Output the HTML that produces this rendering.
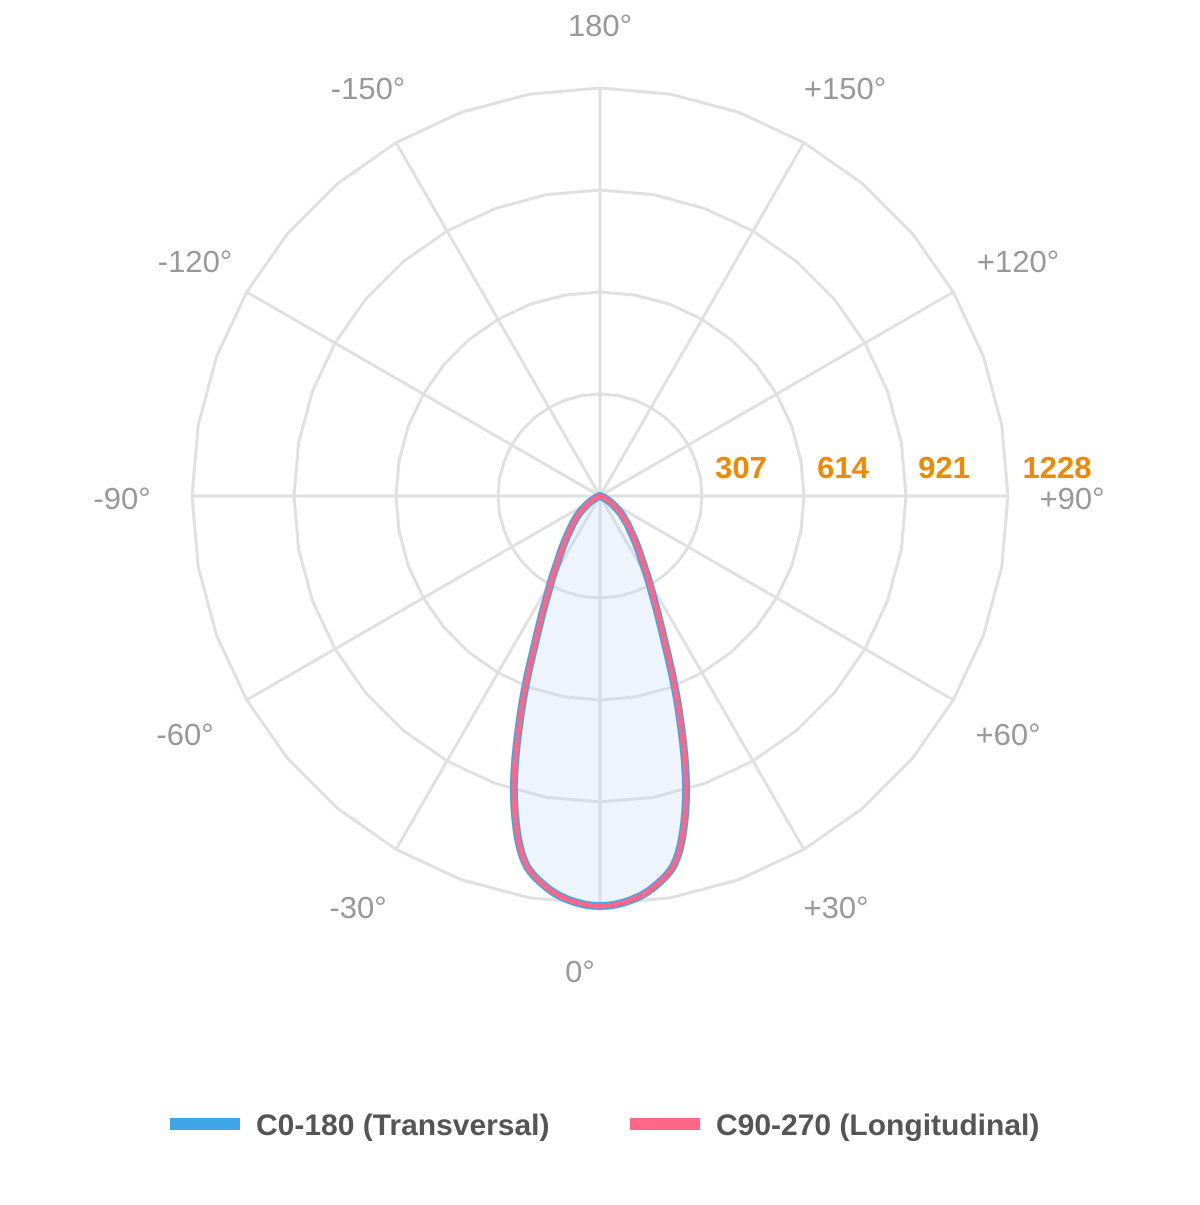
<!DOCTYPE html>
<html><head><meta charset="utf-8"><style>
body{margin:0;background:#fff;width:1200px;height:1200px;overflow:hidden}
svg text{font-family:"Liberation Sans",sans-serif}
</style></head><body>
<svg id="s" width="1200" height="1200" viewBox="0 0 1200 1200"></svg>
<script>
const s=document.getElementById('s');const cx=600,cy=496;
let h='';
function P(r,a){const t=a*Math.PI/180;return [cx+r*Math.sin(t),cy+r*Math.cos(t)];}
for(const R of [102,204,306,408]){let p=[];for(let a=0;a<360;a+=10){p.push(P(R,a).map(v=>v.toFixed(1)).join(','));}
h+=`<polygon points="${p.join(' ')}" fill="none" stroke="#e0e0e0" stroke-width="3"/>`;}
for(let a=0;a<180;a+=30){const [x1,y1]=P(408,a),[x2,y2]=P(408,a+180);h+=`<line x1="${x1}" y1="${y1}" x2="${x2}" y2="${y2}" stroke="#e0e0e0" stroke-width="3"/>`;}
const T=[[-4,406],[0,410],[4,406],[8,394],[12,370],[16,312],[20,232],[24,158],[28,112],[33,77],[40,50],[46,35],[55,18],[65,5],[75,0],[90,0],[180,0],[200,0]];
function r(a){a=Math.abs(a);for(let i=1;i<T.length-2;i++){if(a<=T[i+1][0]){const p0=T[i-1][1],p1=T[i][1],p2=T[i+1][1],p3=T[i+2][1];const t=(a-T[i][0])/(T[i+1][0]-T[i][0]);
const m1=(p2-p0)/2,m2=(p3-p1)/2;const t2=t*t,t3=t2*t;return Math.max(0,(2*t3-3*t2+1)*p1+(t3-2*t2+t)*m1+(-2*t3+3*t2)*p2+(t3-t2)*m2);}}return 0;}
let pts=[];for(let a=-180;a<=180;a+=0.5){pts.push(P(r(a),a).map(v=>v.toFixed(1)).join(','));}
const d='M'+pts.join(' L')+'Z';
h+=`<path d="${d}" fill="rgba(190,215,240,0.28)" stroke="#3ea6e8" stroke-width="8" stroke-linejoin="round"/>`;
h+=`<path d="${d}" fill="none" stroke="#ff6688" stroke-width="5" stroke-linejoin="round"/>`;
const L=[[600,36,'180°'],[368,99,'-150°'],[845,99,'+150°'],[195,272,'-120°'],[1018,272,'+120°'],[122,509,'-90°'],[1072,509,'+90°'],[185,745,'-60°'],[1008,745,'+60°'],[358,918,'-30°'],[836,918,'+30°'],[580,982,'0°']];
for(const [x,y,t] of L)h+=`<text x="${x}" y="${y}" font-size="31" fill="#999" text-anchor="middle">${t}</text>`;
for(const [x,t] of [[741,'307'],[843,'614'],[944,'921'],[1057,'1228']])h+=`<text x="${x}" y="478" font-size="31" font-weight="bold" fill="#ef8a00" text-anchor="middle">${t}</text>`;
h+=`<rect x="170" y="1118" width="70" height="12" fill="#3ea6e8"/><text x="256" y="1135" font-size="30" font-weight="bold" fill="#555">C0-180 (Transversal)</text>`;
h+=`<rect x="630" y="1118" width="70" height="12" fill="#ff6688"/><text x="716" y="1135" font-size="30" font-weight="bold" fill="#555">C90-270 (Longitudinal)</text>`;
s.innerHTML=h;
</script>
</body></html>
